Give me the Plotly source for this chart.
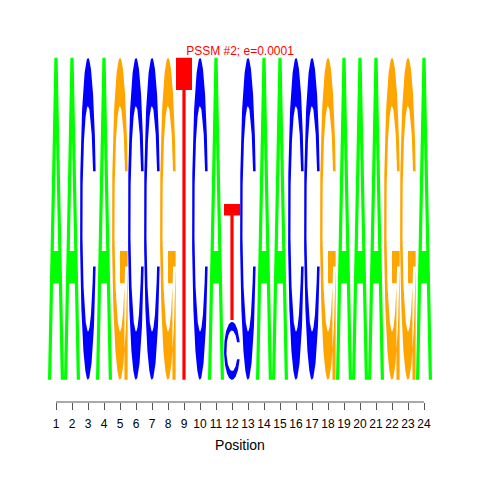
from __future__ import annotations

import numpy as np
import plotly.graph_objects as go

# position probability matrix (24 positions)
positions = list(range(1, 25))
prob_A = [1, 1, 0, 1, 0, 0, 0, 0, 0, 0, 1, 0, 0, 1, 1, 0, 0, 0, 1, 1, 1, 0, 0, 1]
prob_C = [0, 0, 1, 0, 0, 1, 1, 0, 0, 1, 0, 0.333, 1, 0, 0, 1, 1, 0, 0, 0, 0, 0, 0, 0]
prob_G = [0, 0, 0, 0, 1, 0, 0, 1, 0, 0, 0, 0, 0, 0, 0, 0, 0, 1, 0, 0, 0, 1, 1, 0]
prob_T = [0, 0, 0, 0, 0, 0, 0, 0, 1, 0, 0, 0.667, 0, 0, 0, 0, 0, 0, 0, 0, 0, 0, 0, 0]

title = "PSSM #2; e=0.0001"
x_label = "Position"

COLORS = {"A": "#00FF00", "C": "#0000FF", "G": "#FFA500", "T": "#FF0000"}


def _c_shape():
    a1 = np.linspace(0.3 + np.pi / 2, np.pi, 100)
    a2 = np.linspace(np.pi, 1.5 * np.pi, 100)
    xl = np.concatenate([0.5 + 0.5 * np.sin(a1), 0.5 + 0.5 * np.sin(a2)])
    yl = np.concatenate([0.5 + 0.5 * np.cos(a1), 0.5 + 0.5 * np.cos(a2)])
    x = np.concatenate([xl, xl[::-1]])
    y = np.concatenate([yl, 1 - yl[::-1]])
    h = (0.5 + 0.5 * np.cos(a1)).max()
    xi1 = 0.5 + 0.35 * np.sin(a1)
    yi1 = 0.5 + 0.35 * np.cos(a1)
    keep = yi1 <= h
    xi1, yi1 = xi1[keep], yi1[keep].copy()
    yi1[0] = h
    xi = np.concatenate([xi1, 0.5 + 0.35 * np.sin(a2)])
    yi = np.concatenate([yi1, 0.5 + 0.35 * np.cos(a2)])
    x1 = np.concatenate([xi, xi[::-1]])
    y1 = np.concatenate([yi, 1 - yi[::-1]])
    return np.concatenate([x, x1[::-1]]), np.concatenate([y, y1[::-1]])


def glyph(letter):
    """Unit-square polygons for a letter: list of (x, y, is_hole)."""
    if letter == "A":
        return [
            (np.array([0, 4, 6, 10, 8, 6.8, 3.2, 2, 0]) / 10,
             np.array([0, 10, 10, 0, 0, 3, 3, 0, 0]) / 10, False),
            (np.array([3.6, 5, 6.4, 3.6]) / 10, np.array([4, 7.5, 4, 4]) / 10, True),
        ]
    if letter == "T":
        return [(np.array([0, 10, 10, 6, 6, 4, 4, 0]) / 10,
                 np.array([10, 10, 9, 9, 0, 0, 9, 9]) / 10, False)]
    cx, cy = _c_shape()
    parts = [(cx, cy, False)]
    if letter == "G":
        r1 = 0.5 + 0.5 * np.sin(0.3 + np.pi / 2)
        parts.append((np.array([r1, 0.5, 0.5, r1 - 0.2, r1 - 0.2, r1, r1]),
                      np.array([0.4, 0.4, 0.3, 0.3, 0, 0, 0.4]), False))
    return parts


probs = {"A": prob_A, "C": prob_C, "G": prob_G, "T": prob_T}
paths = {k: ([], []) for k in list(COLORS) + ["hole"]}

for j, pos in enumerate(positions):
    col = {k: probs[k][j] for k in probs}
    ent = -sum(p * np.log2(p) for p in col.values() if p > 0)
    ic = 2 - ent
    ypos = 0.0
    for letter in sorted(col, key=lambda k: col[k]):
        ht = 0.95 * col[letter] * ic
        if ht <= 0:
            continue
        for gx, gy, hole in glyph(letter):
            key = "hole" if hole else letter
            paths[key][0].extend(list(pos - 0.5 + gx) + [None])
            paths[key][1].extend(list(ypos + ht * gy) + [None])
        ypos += ht + 0.01

fig = go.Figure()
for key in ["A", "C", "G", "T", "hole"]:
    xs, ys = paths[key]
    if not xs:
        continue
    color = "white" if key == "hole" else COLORS[key]
    fig.add_trace(go.Scatter(
        x=xs, y=ys, mode="lines", fill="toself", fillcolor=color,
        line=dict(width=0, color=color), hoverinfo="skip", showlegend=False,
    ))

fig.add_shape(type="line", xref="x", yref="paper", x0=1, x1=24, y0=0, y1=0,
              line=dict(color="#555555", width=1))

# page body adds an 8px offset, so margins are shifted to compensate
fig.update_layout(
    width=480, height=480,
    margin=dict(l=40, r=56, t=42, b=86),
    plot_bgcolor="white", paper_bgcolor="white",
    font=dict(family="Liberation Sans, Arial", size=12, color="black"),
    title=dict(text=title, xref="paper", x=0.5, xanchor="center", y=1 - 43 / 480,
               yanchor="middle", font=dict(color="red", size=12)),
    xaxis=dict(range=[0.5, 24.5], tickvals=positions, ticktext=[str(p) for p in positions],
               ticks="outside", ticklen=7, tickcolor="#555555", tickwidth=1,
               ticklabelstandoff=4,
               showline=False, showgrid=False, zeroline=False,
               title=dict(text=x_label, standoff=9)),
    yaxis=dict(range=[-0.131, 1.946], showticklabels=False, showgrid=False,
               zeroline=False, showline=False),
)

fig.write_html("out.html")
